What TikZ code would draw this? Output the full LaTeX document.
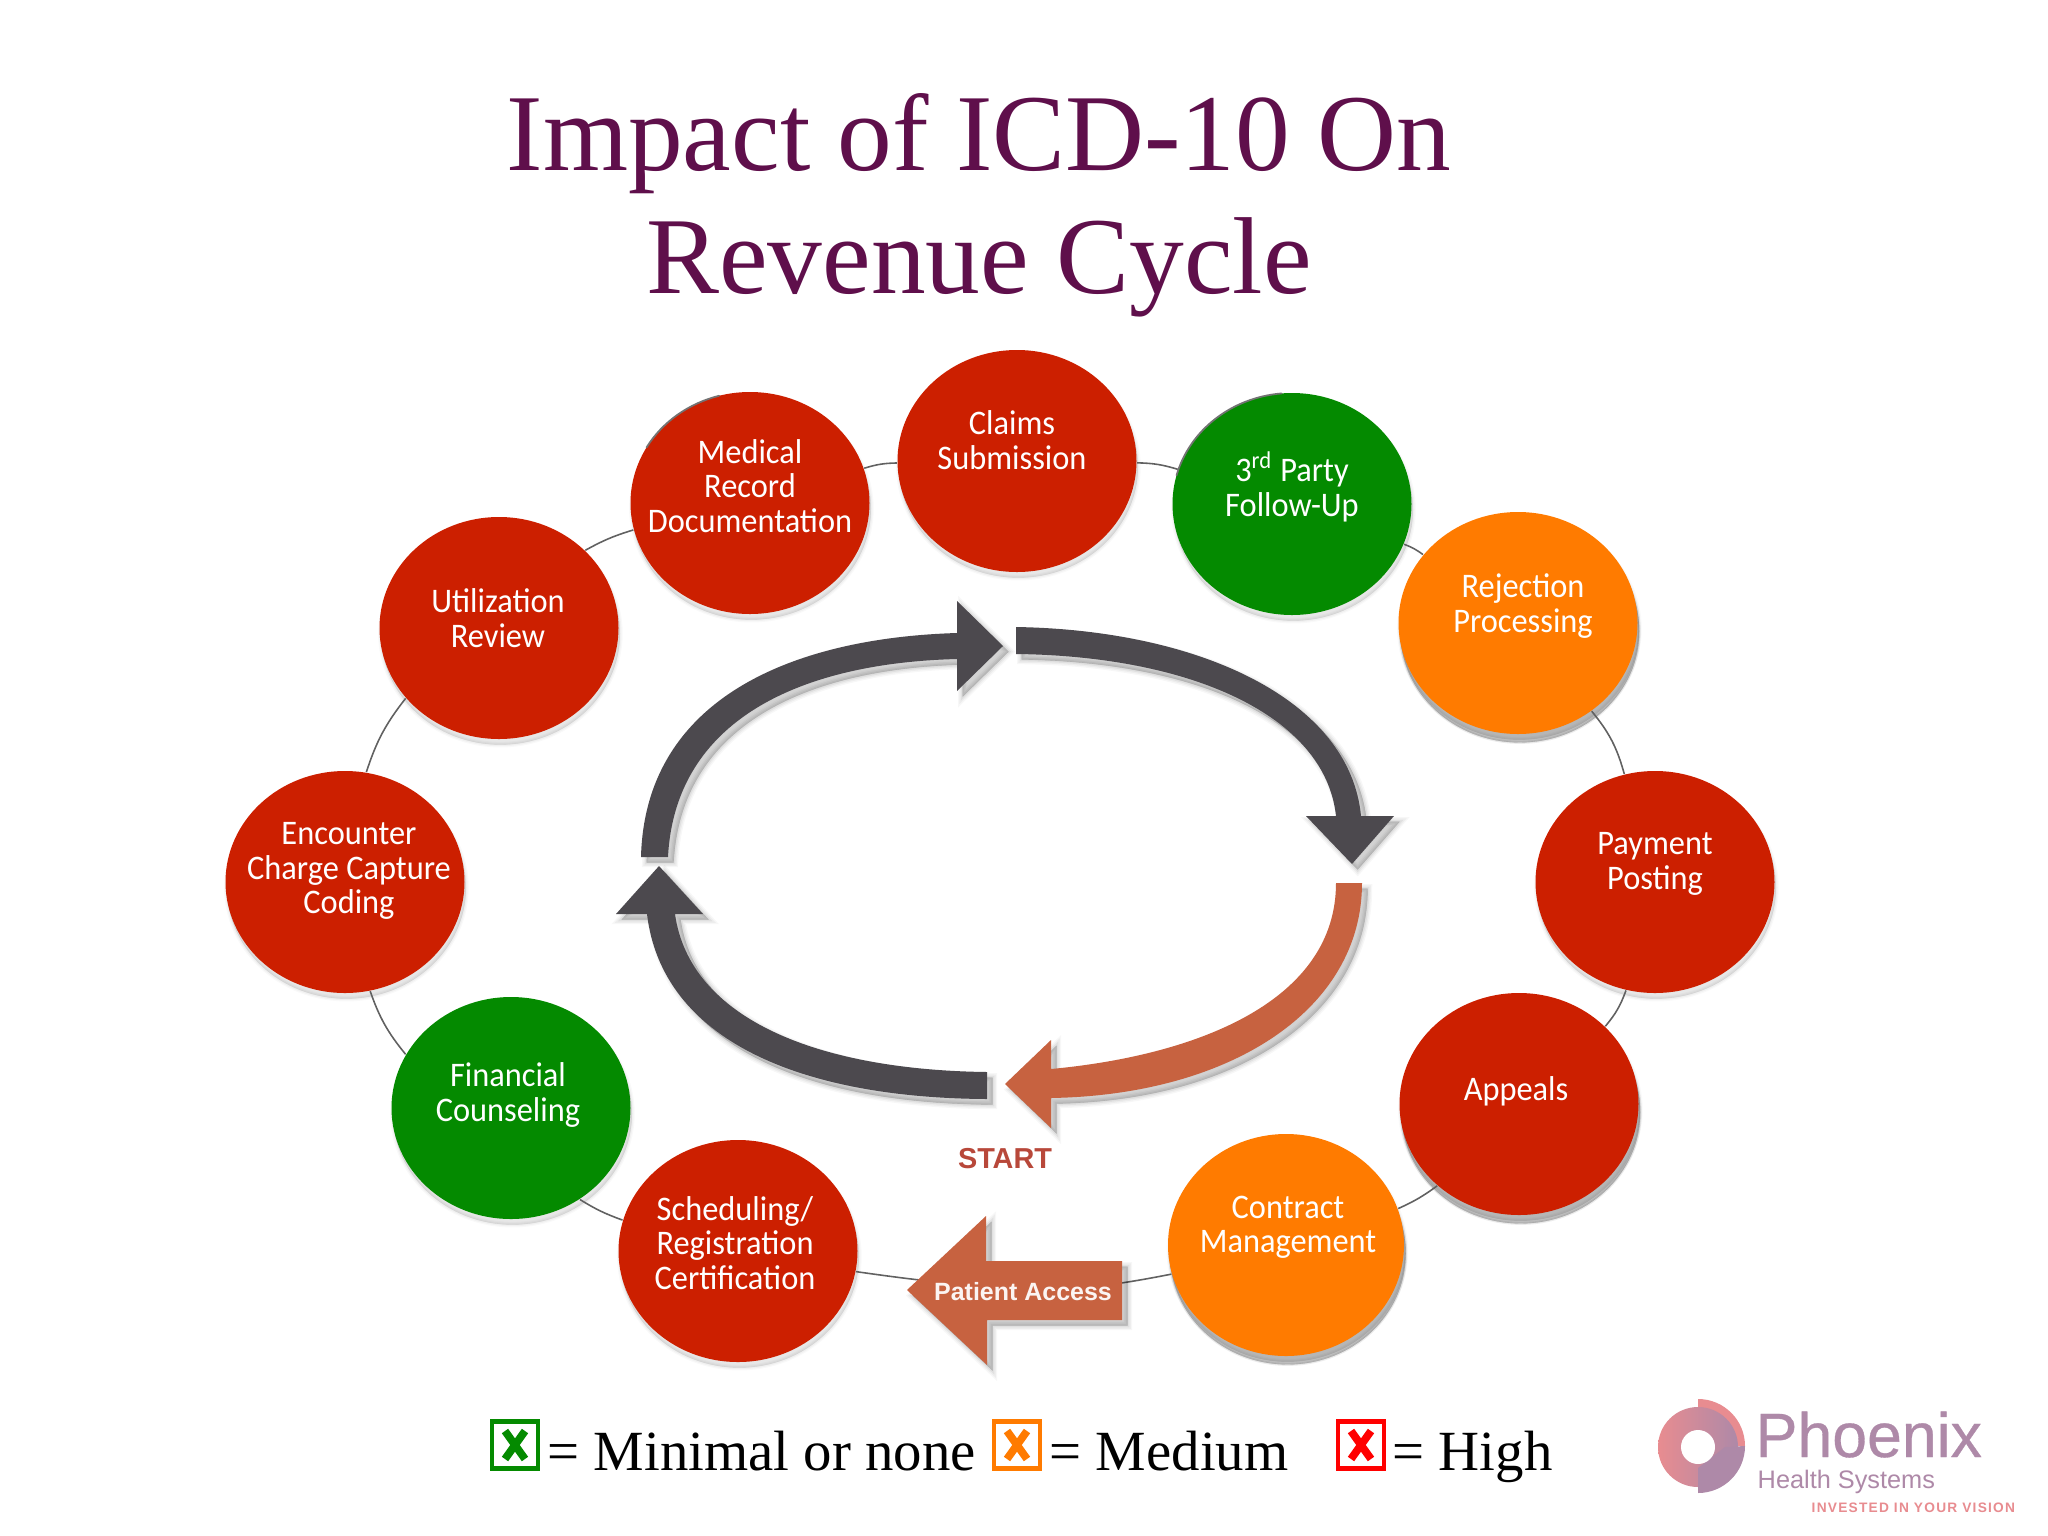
\documentclass[tikz,border=0pt]{standalone}
\usepackage{fontspec}
\usetikzlibrary{shapes.geometric,calc}
\setmainfont{Liberation Serif}
\setsansfont[FakeStretch=0.94]{Carlito}
\newfontfamily\arialf{Liberation Sans}
\newfontfamily\arialb[FakeBold=0.5]{Liberation Sans}
\newfontfamily\arialsp[LetterSpace=9]{Liberation Sans}
\definecolor{redc}{HTML}{CC1F00}
\definecolor{grnc}{HTML}{048A00}
\definecolor{orgc}{HTML}{FF7B00}
\definecolor{ttl}{HTML}{5F0F4B}
\definecolor{gry}{HTML}{4C494E}
\definecolor{rust}{HTML}{C76240}
\definecolor{startc}{HTML}{B8483A}
\definecolor{pur}{HTML}{AE89A8}
\definecolor{pnk}{HTML}{E88C90}
\newlength{\ux}\setlength{\ux}{0.01cm}
\tikzset{
 softsh/.style n args={4}{preaction={draw=black,fill=black,draw opacity=#4,fill opacity=#4,line width=#3,transform canvas={xshift=#1,yshift=-#2}}},
 softcirc/.style={softsh={0.4pt}{1.6pt}{1.6pt}{0.025},softsh={0.4pt}{1.6pt}{0.9pt}{0.03},softsh={0.4pt}{1.6pt}{0.2pt}{0.04}},
 deepsh/.style={softsh={0.5pt}{2.4pt}{0.8pt}{0.08},softsh={0.5pt}{2.4pt}{0.1pt}{0.14}},
 softarrow/.style={softsh={1.6pt}{1.6pt}{2.6pt}{0.03},softsh={1.6pt}{1.6pt}{1.8pt}{0.04},softsh={1.6pt}{1.6pt}{1pt}{0.05},softsh={1.6pt}{1.6pt}{0.2pt}{0.06}},
 circ/.style={ellipse,minimum width=239\ux,minimum height=222\ux,inner sep=0pt,softcirc},
 lbl/.style={font=\sffamily\fontsize{9.8}{9.8}\selectfont,text=white,align=center,inner sep=0pt},
 ring/.style={draw=black!62,line width=0.45pt},
 edgearc/.style={draw=black!55,line width=0.5pt,line cap=round},
 arrowgray/.style={fill=gry,softarrow},
 arrowrust/.style={fill=rust,softarrow},
 titlet/.style={font=\fontsize{31.1}{31.1}\selectfont,text=ttl,inner sep=0pt},
 legt/.style={font=\fontsize{16.15}{16.15}\selectfont,text=black,inner sep=0pt,anchor=base west},
 legbox/.style={draw=#1,line width=1.3pt,fill=white,minimum width=46\ux,minimum height=47\ux,inner sep=0pt},
 legx/.style={draw=#1,line width=2.2pt},
}
\begin{document}
\begin{tikzpicture}[x=0.01cm,y=-0.01cm]
\useasboundingbox (0,0) rectangle (2048,1536);
\fill[white] (0,0) rectangle (2048,1536);
\node[titlet] (t1) at (979,144) {Impact of ICD-10 On};
\node[titlet] (t2) at (979,267) {Revenue Cycle};
% circle positions are placed first so connectors can name them
\node[circ,fill=redc] (claims) at (1017,461) {};
\node[circ,fill=redc] (medical) at (750,503) {};
\node[circ,fill=grnc] (party) at (1292,504) {};
\node[circ,deepsh,fill=orgc] (reject) at (1518,623) {};
\node[circ,fill=redc] (payment) at (1655,882) {};
\node[circ,deepsh,fill=redc] (appeals) at (1519,1104) {};
\node[circ,deepsh,fill=orgc,minimum width=236\ux] (contract) at (1286,1245) {};
\node[circ,fill=redc] (sched) at (738,1251) {};
\node[circ,fill=grnc] (fin) at (511,1108) {};
\node[circ,fill=redc] (enc) at (345,882) {};
\node[circ,fill=redc] (util) at (499,628) {};
% dark rim at the upper left of two circles
\draw[edgearc] ($(party)+({119.5*cos(-165)},{111*sin(-165)})$) arc[start angle=-165,end angle=-95,x radius=119.5,y radius=111];
\draw[edgearc] ($(medical)+({119.5*cos(-150)},{111*sin(-150)})$) arc[start angle=-150,end angle=-105,x radius=119.5,y radius=111];
% ring connectors
\draw[ring] (claims) to[bend left=8] (party);
\draw[ring] (party) to[bend left=8] (reject);
\draw[ring] (reject) to[bend left=12] (payment);
\draw[ring] (payment.255) to[bend left=10] (appeals.42);
\draw[ring] (appeals.225) to[bend left=6] (contract.18);
\draw[ring] (sched.165) to[bend left=6] (fin.-53);
\draw[ring] (fin.153) to[bend left=10] (enc.-77);
\draw[ring] (enc.79) to[bend left=10] (util.217);
\draw[ring] (util.42) to[bend left=6] (medical.193);
\draw[ring] (medical) to[bend left=8] (claims);
\coordinate (pa) at (1060,1290);
\draw[ring] (contract) to[bend left=3] (pa);
\draw[ring] (pa) to[bend left=3] (sched);
% labels
\node[lbl] (l1) at (1012,440) {Claims\\Submission};
\node[lbl] (l2) at (750,486) {Medical\\Record\\Documentation};
\node[lbl] (l3) at (1292,487) {3\textsuperscript{rd} Party\\Follow-Up};
\node[lbl] (l4) at (1523,606) {Rejection\\Processing};
\node[lbl] (l5) at (1655,864) {Payment\\Posting};
\node[lbl] (l6) at (1516,1091) {Appeals};
\node[lbl] (l7) at (1288,1227) {Contract\\Management};
\node[lbl] (l8) at (735,1243) {Scheduling/\\Registration\\Certification};
\node[lbl] (l9) at (508,1095) {Financial\\Counseling};
\node[lbl] (l10) at (349,871) {Encounter\\Charge Capture\\Coding};
\node[lbl] (l11) at (498,618) {Utilization\\Review};
% central arrows
\path[arrowgray] (1016,627) .. controls (1200,630) and (1350,700) .. (1361,816) -- (1394,816) -- (1352,864) -- (1306,816) -- (1336,816) .. controls (1325,715) and (1190,656) .. (1016,654) -- cycle;
\path[arrowgray] (957,633) -- (957,601) -- (1003,646) -- (957,691) -- (957,659) .. controls (800,663) and (675,720) .. (668,857) -- (641,857) .. controls (645,700) and (790,638) .. (957,633) -- cycle;
\path[arrowgray] (987,1072) .. controls (820,1070) and (690,1020) .. (675,914) -- (703,914) -- (659,866) -- (616,914) -- (647,914) .. controls (662,1040) and (800,1098) .. (987,1099) -- cycle;
\path[arrowrust] (1336,883) -- (1362,883) .. controls (1362,1010) and (1230,1095) .. (1051,1098) -- (1051,1128) -- (1005,1084) -- (1051,1040) -- (1051,1069) .. controls (1200,1055) and (1336,1000) .. (1336,883) -- cycle;
\node[font=\arialf\bfseries\fontsize{8.2}{8}\selectfont,text=startc,inner sep=0pt] (start) at (1005,1159) {START};
% patient access
\path[arrowrust] (907,1290) -- (986,1216) -- (986,1261) -- (1122,1261) -- (1122,1320) -- (987,1320) -- (987,1365) -- cycle;
\node[font=\arialf\bfseries\fontsize{7.1}{7}\selectfont,text=white!93!rust,inner sep=0pt] (paL) at (1023,1292) {Patient Access};
% legend
\node[legbox=grnc] (b1) at (515,1445) {};
\draw[legx=grnc] ($(b1)+(-10,-14)$) -- ($(b1)+(10,14)$) ($(b1)+(10,-14)$) -- ($(b1)+(-10,14)$);
\node[legbox=orgc] (b2) at (1017,1445) {};
\draw[legx=orgc] ($(b2)+(-10,-14)$) -- ($(b2)+(10,14)$) ($(b2)+(10,-14)$) -- ($(b2)+(-10,14)$);
\node[legbox=red] (b3) at (1361,1445) {};
\draw[legx=red] ($(b3)+(-10,-14)$) -- ($(b3)+(10,14)$) ($(b3)+(10,-14)$) -- ($(b3)+(-10,14)$);
\node[legt] (e1) at (547,1470) {= Minimal or none};
\node[legt] (e2) at (1049,1470) {= Medium};
\node[legt] (e3) at (1392,1470) {= High};
% logo
\fill[pnk] (1698,1399) arc (-90:0:47) -- (1698,1447) -- cycle;
\path[left color=pnk,right color=pur] (1698,1447) circle (40);
\fill[pur] (1698,1493) arc (90:0:47) -- (1725,1447) -- (1698,1468) -- cycle;
\fill[white] (1698,1447) circle (17);
\node[font=\arialb\fontsize{17.8}{17}\selectfont,text=pur,anchor=base west,inner sep=0pt] (ph) at (1755,1457) {Phoenix};
\node[font=\arialf\fontsize{7.2}{7}\selectfont,text=pur,anchor=base west,inner sep=0pt] (hs) at (1757,1488) {Health Systems};
\node[font=\arialsp\bfseries\fontsize{3.9}{4}\selectfont,text=pnk,anchor=base west,inner sep=0pt] (iv) at (1811,1512) {INVESTED IN YOUR VISION};
\end{tikzpicture}
\end{document}
